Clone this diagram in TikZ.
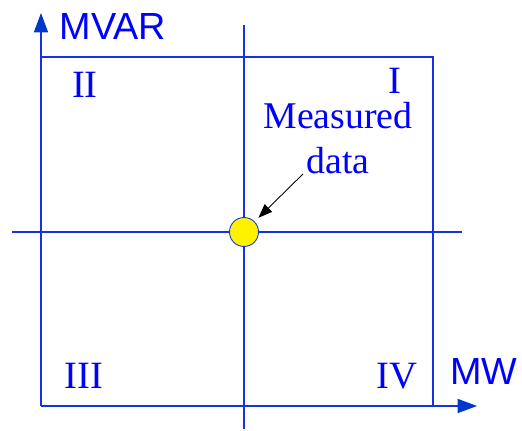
\documentclass[tikz,border=0pt]{standalone}
\usepackage{fontspec}
\setmainfont{Liberation Serif}
\setsansfont{Liberation Sans}
\usetikzlibrary{arrows.meta}
\definecolor{axblue}{RGB}{20,50,225}
\definecolor{tipblue}{RGB}{0,55,205}
\definecolor{txtblue}{RGB}{0,0,255}
\begin{document}
\begin{tikzpicture}[x=0.02cm, y=-0.02cm,
  ln/.style={axblue, line width=0.65pt},
  ax/.style={ln, -{Triangle[length=11pt, width=8pt, color=tipblue]}},
  quad/.style={txtblue, font=\fontsize{22}{26}\selectfont, anchor=base, inner sep=0pt},
  axlab/.style={txtblue, font=\sffamily\fontsize{21.5}{25}\selectfont, anchor=base, inner sep=0pt}]
  \useasboundingbox (0,0) rectangle (522,431);
  % frame and axes
  \coordinate (o) at (41,406);
  \coordinate (ytip) at (41,13);
  \coordinate (xtip) at (477,406);
  \coordinate (tl) at (41,57);
  \coordinate (tr) at (433,57);
  \coordinate (br) at (433,406);
  \coordinate (vt) at (244,25);
  \coordinate (vb) at (244,429);
  \coordinate (hl) at (12,232);
  \coordinate (hr) at (462,232);
  \draw[ln] (tl) -- (tr) -- (br);
  \draw[ln] (vt) -- (vb);
  \draw[ln] (hl) -- (hr);
  \draw[ax] (o) -- (ytip);
  \draw[ax] (o) -- (xtip);
  \node[axlab] (mvar) at (113,40) {MVAR};
  \node[axlab] (mw) at (484,385) {MW};
  % quadrants
  \node[quad] (q1) at (395,94) {I};
  \node[quad] (q2) at (85,98) {II};
  \node[quad] (q3) at (84,389) {III};
  \node[quad] (q4) at (397,389) {IV};
  % measured point
  \node[circle, draw=axblue, fill=yellow, line width=0.5pt, minimum size=0.58cm, inner sep=0pt] (pt) at (244,232) {};
  \node[txtblue, font=\fontsize{21.5}{25.6}\selectfont, align=center, inner sep=0pt] (lbl) at (338,138) {Measured\\data};
  \coordinate (tail) at (303,174);
  \draw[-{Triangle[length=8pt, width=6pt]}, line width=0.5pt, shorten >=3pt] (tail) -- (pt);
\end{tikzpicture}
\end{document}
